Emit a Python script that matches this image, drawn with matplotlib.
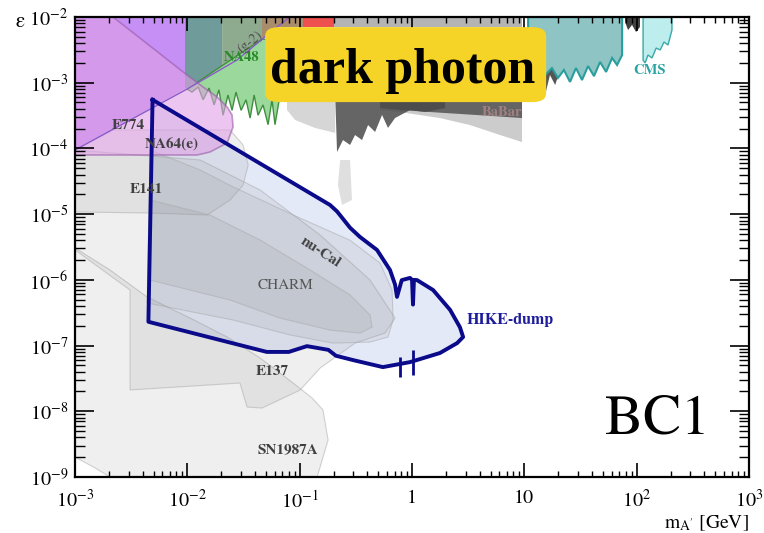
import matplotlib.pyplot as plt
from matplotlib.patches import FancyBboxPatch
from matplotlib.ticker import LogLocator, NullFormatter

plt.rcParams['font.family'] = ['STIXGeneral', 'Liberation Serif', 'DejaVu Serif']
plt.rcParams['mathtext.fontset'] = 'stix'

# ---- excluded regions (mass in GeV, epsilon) ----
sn_m = [1e-3, 2.05e-3, 4.38e-3, 0.0106, 0.0226, 0.0444, 0.0873, 0.129, 0.161, 0.179, 0.143, 2.05e-3, 1.51e-3, 1e-3]
sn_eps = [3.05e-6, 1.41e-6, 5.48e-7, 2.62e-7, 1.35e-7, 6.47e-8, 2.69e-8, 1.59e-8, 1.05e-8, 3.65e-9, 1e-9, 1e-9, 1.37e-9, 2.01e-9]

e137_m = [1e-3, 0.013, 0.0444, 0.152, 0.423, 0.706, 0.575, 0.311, 0.152, 0.101, 0.0462, 0.034, 0.0294, 3.09e-3, 3.09e-3, 1e-3]
e137_eps = [9.46e-5, 6.67e-5, 2.33e-5, 4.81e-6, 9.93e-7, 2.62e-7, 1.55e-7, 1.09e-7, 4.55e-8, 2.11e-8, 1.12e-8, 1.16e-8, 2.69e-8, 2.11e-8, 7.0e-7, 2.85e-6]

e141_m = [1e-3, 0.024, 0.0313, 0.0348, 0.0313, 0.024, 0.015, 4.66e-3, 1e-3]
e141_eps = [1.91e-4, 1.91e-4, 1.13e-4, 5.6e-5, 2.77e-5, 1.64e-5, 9.7e-6, 1.04e-5, 1.08e-5]

nucal_m = [4.66e-3, 0.013, 0.0255, 0.101, 0.281, 0.519, 0.664, 0.679, 0.611, 0.423, 0.198, 0.082, 0.0255, 4.38e-3]
nucal_eps = [9.46e-5, 4.7e-5, 2.6e-5, 8.7e-6, 4.0e-6, 1.8e-6, 7.0e-7, 2.45e-7, 1.35e-7, 1.13e-7, 1.09e-7, 1.45e-7, 2.45e-7, 4.44e-7]

charm_m = [4.66e-3, 0.0159, 0.0444, 0.124, 0.281, 0.423, 0.441, 0.344, 0.186, 0.0668, 0.024, 4.66e-3]
charm_eps = [1.64e-5, 9.7e-6, 4.04e-6, 1.41e-6, 5.88e-7, 2.92e-7, 1.91e-7, 1.55e-7, 1.72e-7, 2.62e-7, 4.93e-7, 9.93e-7]

e774_m = [1e-3, 2.18e-3, 9.93e-3, 0.0138, 0.0184, 0.0226, 0.025, 0.0255, 0.0226, 0.0159, 0.0122, 1e-3]
e774_eps = [1e-2, 1e-2, 1.31e-3, 8.61e-4, 6.07e-4, 4.27e-4, 3.23e-4, 2.12e-4, 1.21e-4, 8.82e-5, 7.94e-5, 7.94e-5]

purple_m = [1e-3, 9.53e-3, 9.53e-3, 1e-3]
purple_eps = [1e-2, 1e-2, 8.02e-4, 9.46e-5]

g2_m = [1e-3, 9.93e-3, 0.0277, 0.0628, 0.082]
g2_eps = [9.46e-5, 8.0e-4, 2.22e-3, 7.05e-3, 1e-2]

strip1_m = [9.53e-3, 0.0204, 0.0204, 9.53e-3]
strip1_eps = [1e-2, 1e-2, 1.64e-3, 8.02e-4]
strip2_m = [0.0204, 0.0462, 0.0462, 0.0204]
strip2_eps = [1e-2, 1e-2, 4.56e-3, 1.64e-3]
strip3_m = [0.0462, 0.107, 0.107, 0.0628, 0.0462]
strip3_eps = [1e-2, 1e-2, 7.0e-3, 7.05e-3, 4.56e-3]
red_m = [0.107, 0.2, 0.2, 0.107]
red_eps = [1e-2, 1e-2, 7.0e-3, 7.0e-3]
topgrey_m = [0.2, 9.5, 9.5, 0.2]
topgrey_eps = [1e-2, 1e-2, 7.0e-3, 7.0e-3]

na48_m = [9.93e-3, 0.0462, 0.0668, 0.0668, 0.0603, 0.0567, 0.0523, 0.0472, 0.0426, 0.0393, 0.0362, 0.0333,
          0.0301, 0.0271, 0.0250, 0.0230, 0.0208, 0.0191, 0.0173, 0.0156, 0.0138, 0.0125, 0.0110]
na48_eps = [8.0e-4, 4.6e-3, 4.5e-3, 6.5e-4, 2.3e-4, 5.5e-4, 2.3e-4, 4.6e-4, 3.2e-4, 6.5e-4, 2.9e-4, 5.5e-4,
            3.8e-4, 7.2e-4, 3.8e-4, 6.5e-4, 3.2e-4, 7.8e-4, 4.6e-4, 8.3e-4, 5.5e-4, 8.6e-4, 7.2e-4]

blob_m = [0.0771, 0.207, 0.207, 0.137, 0.091, 0.0771]
blob_eps = [6.5e-4, 6.5e-4, 1.72e-4, 2.05e-4, 2.71e-4, 3.84e-4]

dark_m = [0.207, 1.97, 1.97, 1.31, 0.96, 0.706, 0.611, 0.541, 0.469, 0.406, 0.359, 0.311, 0.281, 0.243, 0.215]
dark_eps = [6.5e-4, 6.5e-4, 4.12e-4, 3.58e-4, 3.84e-4, 2.9e-4, 2.05e-4, 3.23e-4, 1.78e-4, 2.27e-4, 1.34e-4, 1.6e-4, 1.13e-4, 1.34e-4, 8.82e-5]

babar_m = [0.519, 9.53, 9.53, 6.07, 3.28, 1.77, 0.782, 0.519]
babar_eps = [5.46e-4, 5.46e-4, 1.25e-4, 1.6e-4, 2.27e-4, 2.9e-4, 3.58e-4, 3.84e-4]
band_m = [0.519, 9.53, 9.53, 4.03, 1.77, 0.782, 0.519]
band_eps = [6.5e-4, 6.5e-4, 2.9e-4, 3.2e-4, 3.5e-4, 3.84e-4, 4.12e-4]

lhc_grey_m = [8.79, 20.8, 20.8, 18.8, 16.9, 15.3, 13.8, 12.5, 11.2, 10.1, 9.15]
lhc_grey_eps = [4.47e-3, 4.47e-3, 1.56e-3, 9.23e-4, 1.31e-3, 6.5e-4, 1.1e-3, 5.46e-4, 9.23e-4, 5.85e-4, 1.1e-3]

lhcb_m = [10.8, 74.2, 74.2, 66.9, 60.4, 53.4, 47.2, 41.7, 36.9, 32.6, 28.8, 25.5, 22.5, 19.9, 17.6, 15.3, 13.8, 12.5, 10.8]
lhcb_eps = [1e-2, 1e-2, 2.64e-3, 1.86e-3, 2.38e-3, 1.46e-3, 2.07e-3, 1.26e-3, 1.79e-3, 1.1e-3, 1.67e-3, 1.03e-3,
            1.56e-3, 1.18e-3, 1.67e-3, 1.31e-3, 1.86e-3, 1.46e-3, 2.22e-3]

cms_m = [114, 206, 206, 190, 175, 162, 149, 137, 126, 119, 114]
cms_eps = [1e-2, 1e-2, 6.34e-3, 3.75e-3, 4.17e-3, 3.15e-3, 3.37e-3, 2.38e-3, 2.64e-3, 2.0e-3, 2.2e-3]

blk_m = [78.7, 107, 107, 98.7, 90.9, 83.8, 78.7]
blk_eps = [1e-2, 1e-2, 7.05e-3, 5.91e-3, 7.56e-3, 6.34e-3, 8.39e-3]

faint_m = [0.229, 0.281, 0.292, 0.238, 0.219]
faint_eps = [6.67e-5, 6.67e-5, 1.64e-5, 1.38e-5, 2.77e-5]

# ---- HIKE-dump BC1 sensitivity ----
hike_m = [0.0049, 0.186, 0.215, 0.281, 0.344, 0.488, 0.637, 0.706, 0.735, 0.81, 0.96, 1.00, 1.02, 1.04, 1.11,
          1.54, 2.18, 2.67, 2.85, 2.52, 1.77, 0.96, 0.55, 0.30, 0.21, 0.18, 0.116, 0.08, 0.051, 0.0045, 0.0049]
hike_eps = [5.5e-4, 1.38e-5, 1.1e-5, 6.2e-6, 4.5e-6, 2.85e-6, 1.41e-6, 8.5e-7, 5.5e-7, 9.9e-7, 1.07e-6, 1.0e-6, 4.2e-7, 1.0e-6, 9.9e-7,
            7.0e-7, 3.5e-7, 1.9e-7, 1.35e-7, 1.09e-7, 7.7e-8, 5.6e-8, 4.7e-8, 6.0e-8, 7.0e-8, 8.6e-8, 9.8e-8, 8.0e-8, 8.0e-8, 2.3e-7, 5.5e-4]
spike_m = [0.78, 1.02]
spike_lo = [3.3e-8, 3.6e-8]
spike_hi = [6.7e-8, 8.5e-8]

xticks = [1e-3, 1e-2, 1e-1, 1, 10, 1e2, 1e3]
xticklabels = ['$10^{-3}$', '$10^{-2}$', '$10^{-1}$', '1', '10', '$10^{2}$', '$10^{3}$']
yticks = [1e-9, 1e-8, 1e-7, 1e-6, 1e-5, 1e-4, 1e-3, 1e-2]
yticklabels = ['$10^{-9}$', '$10^{-8}$', '$10^{-7}$', '$10^{-6}$', '$10^{-5}$', '$10^{-4}$', '$10^{-3}$', '$10^{-2}$']

fig = plt.figure(figsize=(7.64, 5.33), dpi=100)
ax = fig.add_axes([0.0982, 0.1051, 0.8822, 0.8630])
ax.set_xscale('log')
ax.set_yscale('log')
ax.set_xlim(1e-3, 1e3)
ax.set_ylim(1e-9, 1e-2)

# HIKE fill underneath, greys on top so they tint
ax.fill(hike_m, hike_eps, color='#e3e9f7', lw=0, zorder=1)
for mm, ee in [(sn_m, sn_eps), (e137_m, e137_eps), (e141_m, e141_eps), (nucal_m, nucal_eps), (charm_m, charm_eps)]:
    ax.fill(mm, ee, fc='#888888', alpha=0.13, ec='none', zorder=1.1)
    ax.fill(mm, ee, fc='none', ec='#a8a8a8', lw=0.8, alpha=0.5, zorder=1.1)
ax.fill(faint_m, faint_eps, fc='#d8d8d8', ec='none', alpha=0.8, zorder=1.1)

# top experiments
ax.fill(purple_m, purple_eps, color='#c58ff5', lw=0, zorder=1.2)
ax.fill(strip1_m, strip1_eps, color='#6f9b9a', lw=0, zorder=1.2)
ax.fill(strip2_m, strip2_eps, color='#8eab8f', lw=0, zorder=1.2)
ax.fill(strip3_m, strip3_eps, color='#a88c6c', lw=0, zorder=1.2)
ax.fill(red_m, red_eps, color='#ee5050', lw=0, zorder=1.2)
ax.fill(topgrey_m, topgrey_eps, color='#b4b4b4', lw=0, zorder=1.2)
ax.fill(na48_m, na48_eps, fc='#9bd89b', ec='#3f8f3f', lw=1, zorder=1.3)
ax.fill(blob_m, blob_eps, fc='#bcbcbc', ec='none', alpha=0.6, zorder=1.3)
ax.fill(babar_m, babar_eps, fc='#9a9a9a', ec='none', alpha=0.5, zorder=1.3)
ax.fill(band_m, band_eps, fc='#4a4a4a', ec='none', alpha=0.8, zorder=1.35)
ax.fill(dark_m, dark_eps, fc='#4a4a4a', ec='none', alpha=0.85, zorder=1.35)
ax.fill(lhc_grey_m, lhc_grey_eps, fc='#555555', ec='none', zorder=1.3)
ax.fill(lhcb_m, lhcb_eps, fc='#8ec4c4', ec='#2a9d9d', lw=1.5, zorder=1.4)
ax.fill(cms_m, cms_eps, fc='#bdeded', ec='#3aa9a9', lw=1, zorder=1.4)
ax.fill(blk_m, blk_eps, fc='#404040', ec='none', zorder=1.4)
ax.fill(e774_m, e774_eps, fc='#e0a0e6', ec='#9a5aa8', lw=1.2, alpha=0.6, zorder=1.5)
ax.plot(g2_m, g2_eps, color='#8a5cc8', lw=1, zorder=1.5)

# HIKE outline
ax.plot(hike_m, hike_eps, color='#0a0a8a', lw=2.8, solid_joinstyle='round', zorder=2.4)
ax.vlines(spike_m, spike_lo, spike_hi, color='#0a0a8a', lw=2, zorder=2.4)

# labels
lab = dict(fontsize=11, fontweight='bold', color='#404040', ha='center', va='center', zorder=3)
ax.text(0.00296, 2.27e-4, 'E774', **lab)
ax.text(0.0073, 1.13e-4, 'NA64(e)', **lab)
ax.text(0.00428, 2.33e-5, 'E141', **lab)
ax.text(0.152, 2.65e-6, 'nu-Cal', rotation=-33, **lab)
ax.text(0.0568, 3.96e-8, 'E137', **lab)
ax.text(0.0787, 2.57e-9, 'SN1987A', **lab)
ax.text(0.074, 8.3e-7, 'CHARM', fontsize=11, color='#555555', ha='center', va='center', zorder=3)
ax.text(3.09, 2.45e-7, 'HIKE-dump', fontsize=11.5, fontweight='bold', color='#1c1c9c', ha='left', va='center', zorder=3)
ax.text(6.33, 3.58e-4, 'BaBar', fontsize=10.5, fontweight='bold', color='#b08888', alpha=0.8, ha='center', va='center', zorder=3)
ax.text(128.8, 1.56e-3, 'CMS', fontsize=10.5, fontweight='bold', color='#2aa3a3', ha='center', va='center', zorder=3)
ax.text(0.0307, 2.38e-3, 'NA48', fontsize=10.5, fontweight='bold', color='#2a8a2a', ha='center', va='center', zorder=3)
ax.text(0.0361, 4.17e-3, '(g-2)', fontsize=10, color='#505050', rotation=38, ha='center', va='center', zorder=3)

# dark photon banner
box = FancyBboxPatch((0.282, 0.815), 0.417, 0.163, boxstyle='round,pad=0,rounding_size=0.02',
                     transform=ax.transAxes, fc='#f5d327', ec='none', zorder=5)
ax.add_patch(box)
ax.text(0.486, 0.857, 'dark photon', transform=ax.transAxes, ha='center', va='baseline',
        fontsize=36, fontweight='bold', family='Liberation Serif', zorder=6)
ax.text(0.864, 0.124, 'BC1', transform=ax.transAxes, ha='center', va='center', fontsize=41, zorder=6)

# axes
ax.set_xticks(xticks)
ax.set_xticklabels(xticklabels)
ax.set_yticks(yticks)
ax.set_yticklabels(yticklabels)
ax.xaxis.set_minor_locator(LogLocator(base=10, subs=range(2, 10), numticks=20))
ax.yaxis.set_minor_locator(LogLocator(base=10, subs=range(2, 10), numticks=20))
ax.xaxis.set_minor_formatter(NullFormatter())
ax.yaxis.set_minor_formatter(NullFormatter())
ax.tick_params(axis='x', which='major', direction='in', length=10, width=1.2, top=True, pad=9, labelsize=14.5)
ax.tick_params(axis='x', which='minor', direction='in', length=4, width=1, top=True)
ax.tick_params(axis='y', which='major', direction='in', length=14, width=1.2, right=True, pad=5, labelsize=14.5)
ax.tick_params(axis='y', which='minor', direction='in', length=7, width=1, right=True)
for s in ax.spines.values():
    s.set_linewidth(1.6)

fig.text(0.020, 0.959, 'ε', fontsize=15, va='center', ha='left')
ax.text(1.0, -0.10, r"m$_{\mathrm{A'}}$ [GeV]", transform=ax.transAxes, ha='right', va='center', fontsize=14)

fig.savefig('out.png', dpi=100)
